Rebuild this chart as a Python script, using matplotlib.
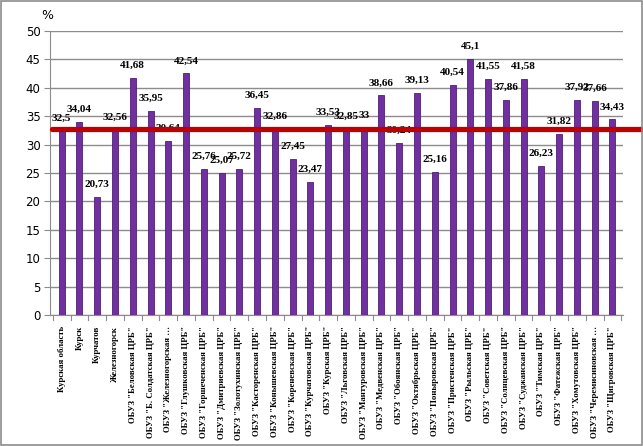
import matplotlib
matplotlib.use("Agg")
import matplotlib.pyplot as plt
from matplotlib.patches import Rectangle

categories = [
    'Курская область', 'Курск', 'Курчатов', 'Железногорск',
    'ОБУЗ "Беловская ЦРБ"', 'ОБУЗ "Б. Солдатская ЦРБ"', 'ОБУЗ "Железногорская …',
    'ОБУЗ "Глушковская ЦРБ"', 'ОБУЗ "Горшеченская ЦРБ"', 'ОБУЗ "Дмитриевская ЦРБ"',
    'ОБУЗ "Золотухинская ЦРБ"', 'ОБУЗ "Касторенская ЦРБ"', 'ОБУЗ "Конышевская ЦРБ"',
    'ОБУЗ "Кореневская ЦРБ"', 'ОБУЗ "Курчатовская ЦРБ"', 'ОБУЗ "Курская ЦРБ"',
    'ОБУЗ "Льговская ЦРБ"', 'ОБУЗ "Мантуровская ЦРБ"', 'ОБУЗ "Медвенская ЦРБ"',
    'ОБУЗ "Обоянская ЦРБ"', 'ОБУЗ "Октябрьская ЦРБ"', 'ОБУЗ "Поныровская ЦРБ"',
    'ОБУЗ "Пристенская ЦРБ"', 'ОБУЗ "Рыльская ЦРБ"', 'ОБУЗ "Советская ЦРБ"',
    'ОБУЗ "Солнцевская ЦРБ"', 'ОБУЗ "Суджанская ЦРБ"', 'ОБУЗ "Тимская ЦРБ"',
    'ОБУЗ "Фатежская ЦРБ"', 'ОБУЗ "Хомутовская ЦРБ"', 'ОБУЗ "Черемисиновская …',
    'ОБУЗ "Щигровская ЦРБ"',
]
values = [32.5, 34.04, 20.73, 32.56, 41.68, 35.95, 30.64, 42.54, 25.76, 25.07,
          25.72, 36.45, 32.86, 27.45, 23.47, 33.53, 32.85, 33, 38.66, 30.24,
          39.13, 25.16, 40.54, 45.1, 41.55, 37.86, 41.58, 26.23, 31.82, 37.92,
          37.66, 34.43]
average = 32.8
yticks = [0, 5, 10, 15, 20, 25, 30, 35, 40, 45, 50]

fig = plt.figure(figsize=(6.43, 4.46), dpi=100)
ax = fig.add_axes([0.078, 0.2937, 0.891, 0.6368])
ax.patch.set_alpha(0)

x = list(range(len(values)))
ax.bar(x, values, width=0.34, color='#7030A0', edgecolor='#4E1F73',
       linewidth=0.6, zorder=3)

for xi, v in zip(x, values):
    label = ('%g' % v).replace('.', ',')
    ax.annotate(label, (xi, v), xytext=(0, 9), textcoords='offset points',
                ha='center', va='center', fontsize=8, fontweight='bold',
                family='Liberation Serif', zorder=5)

ax.plot([-0.55, 32.6], [average, average], color='#C00000', lw=3.8,
        solid_capstyle='round', clip_on=False, zorder=6)

ax.set_xlim(-0.65, 31.6)
ax.set_ylim(0, 50)
ax.set_yticks(yticks)
ax.yaxis.grid(True, color='#8C8C8C', lw=1.0, zorder=0)
ax.set_xticks(x)
ax.set_xticklabels(categories, rotation=90, fontsize=6.3, fontweight='bold',
                   family='Liberation Serif', va='top', ha='center')
ax.tick_params(axis='x', length=0, pad=8)
ax.tick_params(axis='y', colors='#8C8C8C', labelcolor='#333333',
               labelsize=8.5, length=4, pad=3)
for lbl in ax.get_yticklabels():
    lbl.set_color('black')

for s in ['top', 'right']:
    ax.spines[s].set_visible(False)
ax.spines['left'].set_color('#8C8C8C')
ax.spines['bottom'].set_color('#8C8C8C')

for i in range(len(values) + 1):
    ax.plot([i - 0.5, i - 0.5], [0, -0.9], color='#8C8C8C', lw=0.8,
            clip_on=False)

fig.text(0.073, 0.965, '%', fontsize=9, ha='center', va='center')

fig.patches.append(Rectangle((0.002, 0.002), 0.996, 0.996,
                             transform=fig.transFigure, fill=False,
                             edgecolor='#8C8C8C', lw=1.2))

fig.savefig('out.png', dpi=100)
